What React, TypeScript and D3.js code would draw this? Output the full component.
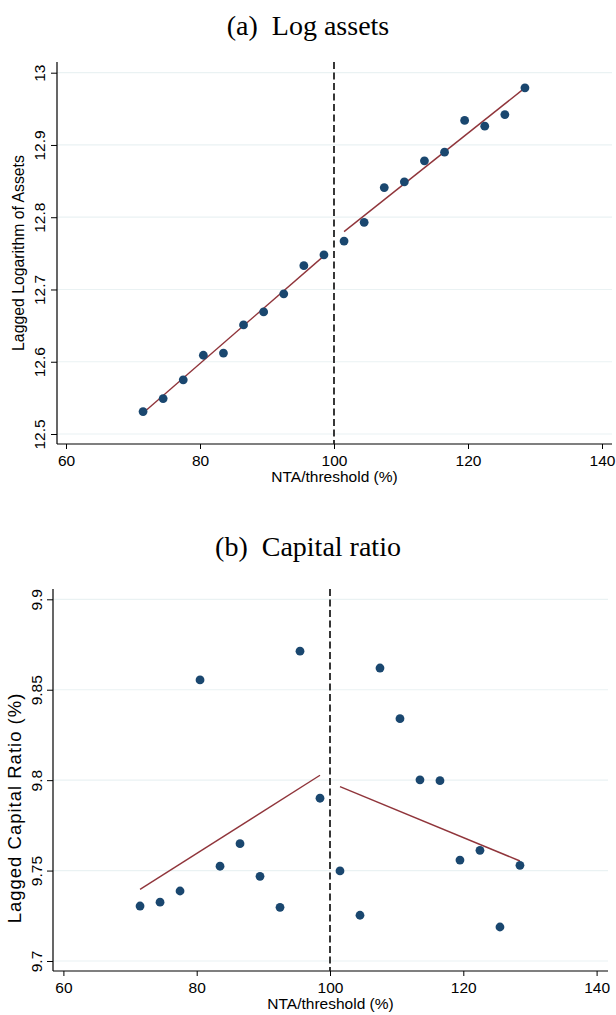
import React, { useEffect, useRef } from "react";
import * as d3 from "d3";

// bin midpoints of NTA/threshold (%)
const binsLeft = [71.5, 74.5, 77.5, 80.5, 83.5, 86.5, 89.5, 92.5, 95.5, 98.5];
const binsRight = [101.5, 104.5, 107.5, 110.5, 113.5, 116.5, 119.5, 122.5, 125.5, 128.5];

// panel (a): lagged log assets
const assetsLeft = [12.531, 12.549, 12.575, 12.609, 12.612, 12.651, 12.669, 12.694, 12.733, 12.748];
const assetsRight = [12.767, 12.793, 12.841, 12.849, 12.878, 12.89, 12.934, 12.926, 12.942, 12.979];
const assetsFitLeft = [12.529, 12.7465];
const assetsFitRight = [12.78, 12.979];

// panel (b): lagged capital ratio
const capitalLeft = [9.7304, 9.7325, 9.7387, 9.8554, 9.7524, 9.7649, 9.7468, 9.7297, 9.8713, 9.79];
const capitalRight = [9.7498, 9.7253, 9.862, 9.834, 9.8002, 9.7997, 9.7558, 9.7612, 9.7188, 9.7529];
const capitalFitLeft = [9.7396, 9.8027];
const capitalFitRight = [9.7964, 9.7553];

const xTicks = [60, 80, 100, 120, 140];
const assetsTicks = [12.5, 12.6, 12.7, 12.8, 12.9, 13];
const assetsTickLabels = ["12.5", "12.6", "12.7", "12.8", "12.9", "13"];
const capitalTicks = [9.7, 9.75, 9.8, 9.85, 9.9];
const capitalTickLabels = ["9.7", "9.75", "9.8", "9.85", "9.9"];
const cutoff = 100;

const navy = "#1a476f";
const maroon = "#90353b";
const gridColor = "#eaf2f3";
const sans = "'Liberation Sans', Arial, Helvetica, sans-serif";
const serif = "'Liberation Serif', 'Times New Roman', serif";

function drawPanel(root, cfg) {
  const g = d3.select(root);
  g.selectAll("*").remove();
  const { left, right, top, bottom } = cfg;

  const x = d3.scaleLinear().domain([60, 140]).range(cfg.xRange);
  const y = d3.scaleLinear().domain(cfg.yDomain).range(cfg.yRange);

  g.append("text")
    .attr("x", 308)
    .attr("y", cfg.titleY)
    .attr("text-anchor", "middle")
    .attr("font-family", serif)
    .attr("font-size", 28)
    .text(cfg.title);

  // grid
  g.append("g")
    .selectAll("line")
    .data(cfg.yTicks)
    .join("line")
    .attr("x1", left)
    .attr("x2", right)
    .attr("y1", d => y(d))
    .attr("y2", d => y(d))
    .attr("stroke", gridColor)
    .attr("stroke-width", 1.2);

  // x axis
  const xa = g.append("g")
    .attr("transform", `translate(0,${bottom})`)
    .call(d3.axisBottom(x).tickValues(xTicks).tickSize(5).tickPadding(6).tickSizeOuter(0));
  xa.select(".domain").remove();
  xa.selectAll("text").attr("font-family", sans).attr("font-size", 15.5).attr("fill", "#000");
  xa.selectAll("line").attr("stroke", "#000");

  // y axis
  const ya = g.append("g")
    .attr("transform", `translate(${left},0)`)
    .call(d3.axisLeft(y).tickValues(cfg.yTicks).tickSize(6).tickFormat((d, i) => cfg.yLabels[i]));
  ya.select(".domain").remove();
  ya.selectAll("line").attr("stroke", "#000");
  ya.selectAll("text")
    .attr("x", 0)
    .attr("dy", 0)
    .attr("transform", `translate(${-cfg.tickGap},0) rotate(-90)`)
    .attr("text-anchor", "middle")
    .attr("font-family", sans)
    .attr("font-size", 15.5)
    .attr("fill", "#000");

  g.append("line").attr("x1", left).attr("x2", left).attr("y1", top).attr("y2", bottom)
    .attr("stroke", "#000").attr("stroke-width", 1.2);
  g.append("line").attr("x1", left).attr("x2", right).attr("y1", bottom).attr("y2", bottom)
    .attr("stroke", "#000").attr("stroke-width", 1.2);

  // axis titles
  g.append("text")
    .attr("transform", `translate(${cfg.yTitleX},${cfg.yTitleY}) rotate(-90)`)
    .attr("text-anchor", "middle")
    .attr("font-family", sans)
    .attr("font-size", cfg.yTitleSize)
    .attr("letter-spacing", cfg.yTitleSpacing)
    .text(cfg.yTitle);
  g.append("text")
    .attr("x", (left + right) / 2)
    .attr("y", cfg.xTitleY)
    .attr("text-anchor", "middle")
    .attr("font-family", sans)
    .attr("font-size", 15.5)
    .text("NTA/threshold (%)");

  // cutoff
  g.append("line")
    .attr("x1", x(cutoff)).attr("x2", x(cutoff))
    .attr("y1", top).attr("y2", bottom)
    .attr("stroke", "#222")
    .attr("stroke-width", 1.8)
    .attr("stroke-dasharray", "7,3.5");

  // fitted lines
  const line = d3.line().x(d => x(d[0])).y(d => y(d[1]));
  const fits = [
    d3.zip([binsLeft[0], binsLeft[binsLeft.length - 1]], cfg.fitLeft),
    d3.zip([binsRight[0], binsRight[binsRight.length - 1]], cfg.fitRight),
  ];
  g.append("g")
    .selectAll("path")
    .data(fits)
    .join("path")
    .attr("d", line)
    .attr("fill", "none")
    .attr("stroke", maroon)
    .attr("stroke-width", 1.4);

  const pts = [
    ...d3.zip(binsLeft, cfg.left_),
    ...d3.zip(binsRight, cfg.right_),
  ];
  g.append("g")
    .selectAll("circle")
    .data(pts)
    .join("circle")
    .attr("cx", d => x(d[0]))
    .attr("cy", d => y(d[1]))
    .attr("r", 4.4)
    .attr("fill", navy);
}

export default function App() {
  const aRef = useRef(null);
  const bRef = useRef(null);

  useEffect(() => {
    drawPanel(aRef.current, {
      title: "(a)\u2002Log assets",
      titleY: 35,
      left: 57, right: 612, top: 62, bottom: 444,
      xRange: [66, 602],
      yDomain: [12.5, 13], yRange: [434, 72.7],
      yTicks: assetsTicks, yLabels: assetsTickLabels,
      tickGap: 11.7,
      yTitle: "Lagged Logarithm of Assets", yTitleX: 24, yTitleY: 253, yTitleSize: 15.8, yTitleSpacing: 0,
      xTitleY: 482,
      left_: assetsLeft, right_: assetsRight,
      fitLeft: assetsFitLeft, fitRight: assetsFitRight,
    });
    drawPanel(bRef.current, {
      title: "(b)\u2002Capital ratio",
      titleY: 556,
      left: 53, right: 608, top: 589, bottom: 971,
      xRange: [63.4, 596.6],
      yDomain: [9.7, 9.9], yRange: [961, 599.3],
      yTicks: capitalTicks, yLabels: capitalTickLabels,
      tickGap: 11,
      yTitle: "Lagged Capital Ratio (%)", yTitleX: 21, yTitleY: 808, yTitleSize: 18.5, yTitleSpacing: 1,
      xTitleY: 1009,
      left_: capitalLeft, right_: capitalRight,
      fitLeft: capitalFitLeft, fitRight: capitalFitRight,
    });
  }, []);

  return (
    <svg width={616} height={1015} style={{ position: "absolute", left: 0, top: 0, background: "#fff" }}>
      <g ref={aRef} />
      <g ref={bRef} />
    </svg>
  );
}
